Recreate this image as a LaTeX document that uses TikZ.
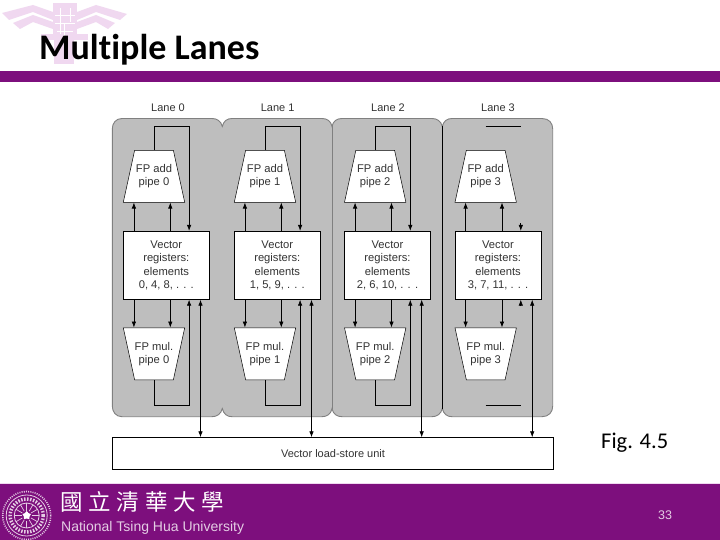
\documentclass[tikz,border=0pt]{standalone}
\usepackage{fontspec}
\setmainfont{Liberation Sans}
\newfontfamily\titlefont[Ligatures=NoCommon]{Carlito}
\newfontfamily\cjkfont[LetterSpace=26]{Noto Sans CJK TC}
\usetikzlibrary{arrows.meta,positioning,calc,shapes.geometric}
\definecolor{bandpurple}{RGB}{125,15,125}
\definecolor{lanegray}{RGB}{190,190,190}
\definecolor{lineedge}{RGB}{128,128,128}
\definecolor{crestpink}{RGB}{240,216,240}
\definecolor{paletext}{RGB}{228,205,228}
\tikzset{
  regbox/.style={draw=black,fill=white,line width=0.8pt,minimum width=86pt,minimum height=68pt,inner sep=0pt,align=center,text=black!80,font=\fontsize{11.2}{13.3}\selectfont},
  pipebox/.style={trapezium,trapezium angle=64,trapezium stretches body=true,draw=black,fill=white,line width=0.5pt,minimum width=61.4pt,minimum height=52pt,inner sep=0pt,align=center,text=black!80,font=\fontsize{11.2}{12.8}\selectfont},
  lanelabel/.style={inner sep=0pt,text=black!80,font=\fontsize{11}{13}\selectfont},
  link/.style={draw=black,line width=0.7pt},
  flow/.style={link,-{Latex[length=6pt,width=4.5pt]}},
  both/.style={link,{Latex[length=6pt,width=4.5pt]}-{Latex[length=6pt,width=4.5pt]}},
  wing/.style={fill=crestpink},
}
\begin{document}
\begin{tikzpicture}[x=1pt,y=-1pt]
\useasboundingbox (0,0) rectangle (720,540);
\fill[white] (0,0) rectangle (720,540);
% crest behind the title
\fill[wing] (2,13) -- (33,5) -- (53,12) -- (53,20) -- (33,12) -- (9,20) -- cycle;
\fill[wing] (13,23) -- (33,15) -- (53,22) -- (53,29) -- (33,22) -- (20,29) -- cycle;
\fill[wing] (127,14) -- (96,5) -- (77,12) -- (77,20) -- (96,12) -- (120,20) -- cycle;
\fill[wing] (115,23) -- (96,15) -- (77,22) -- (77,29) -- (96,22) -- (108,29) -- cycle;
\fill[wing] (53,3) rectangle (77,40);
\fill[wing] (41,34) rectangle (88,40);
\fill[wing] (54,40) rectangle (74,64);
\draw[white,line width=0.8pt] (60,8) -- (60,34) (70,8) -- (70,22) (55,15) -- (75,15) (55,23) -- (75,23) (64,23) -- (64,36) (57,31) -- (73,31);
\node[anchor=base west,inner sep=0pt,font=\titlefont\bfseries\fontsize{36}{36}\selectfont] (title) at (39,60) {Multiple Lanes};
\fill[bandpurple] (0,71) rectangle (720,82.5);
% lanes
\filldraw[fill=lanegray,draw=lineedge,line width=0.9pt] (122,118.5) -- (212,118.5) .. controls (217,118.5) and (221,121) .. (222.3,126.5)
  .. controls (223.6,121) and (227,118.5) .. (232,118.5) -- (322,118.5) .. controls (327,118.5) and (331,121) .. (332,126.5)
  .. controls (333,121) and (337,118.5) .. (342,118.5) -- (432,118.5) .. controls (437,118.5) and (441,121) .. (442.3,126.5)
  .. controls (443.6,121) and (447,118.5) .. (452,118.5) -- (542,118.5) .. controls (549,118.5) and (552.7,123) .. (552.7,129)
  -- (552.7,406) .. controls (552.7,412) and (549,416.7) .. (542,416.7) -- (452,416.7) .. controls (447,416.7) and (443.6,414) .. (442.3,408.5)
  .. controls (441,414) and (437,416.7) .. (432,416.7) -- (342,416.7) .. controls (337,416.7) and (333,414) .. (332,408.5)
  .. controls (331,414) and (327,416.7) .. (322,416.7) -- (232,416.7) .. controls (227,416.7) and (223.6,414) .. (222.3,408.5)
  .. controls (221,414) and (217,416.7) .. (212,416.7) -- (122,416.7) .. controls (116,416.7) and (112.3,412) .. (112.3,406)
  -- (112.3,129) .. controls (112.3,123) and (116,118.5) .. (122,118.5) -- cycle;
\draw[lineedge,line width=0.9pt] (332,126.5) -- (332,408.5);
\draw[black,line width=0.7pt] (442.3,126.5) -- (442.3,408.5);
\node[draw=black,fill=white,line width=0.8pt,minimum width=441pt,minimum height=31.6pt,inner sep=0pt,text=black!80,font=\fontsize{11}{13}\selectfont] (unit) at (333,453.5) {Vector load-store unit};
\foreach \n/\x/\lx/\els in {0/166.3/168/{0, 4, 8, . . .},1/277.3/277.7/{1, 5, 9, . . .},2/387.5/388/{2, 6, 10, . . .},3/498/498/{3, 7, 11, . . .}}{
  \node[lanelabel] (lane\n) at (\lx,107.7) {Lane \n};
  \node[regbox] (reg\n) at (\x,265.3) {Vector\\registers:\\elements\\\els};
  \node[pipebox] (add\n) at ({\x-12.3},176.3) {FP add\\pipe \n};
  \node[pipebox,shape border rotate=180] (mul\n) at ({\x-12.3},353.8) {FP mul.\\pipe \n};
  \coordinate (inA\n) at ($(reg\n.north west)+(11,0)$);
  \coordinate (inB\n) at ($(reg\n.north west)+(47.4,0)$);
  \coordinate (outA\n) at ($(reg\n.south west)+(11,0)$);
  \coordinate (outB\n) at ($(reg\n.south west)+(47.4,0)$);
  \coordinate (addloop\n) at ($(reg\n.north west)+(66.2,-104.6)$);
  \coordinate (mulloop\n) at ($(reg\n.south west)+(66.2,106)$);
  \coordinate (mem\n) at ($(reg\n.south west)+(77.6,0)$);
  \draw[flow] (inA\n) -- (inA\n |- add\n.south);
  \draw[flow] (inB\n) -- (inB\n |- add\n.south);
  \draw[flow] (outA\n) -- (outA\n |- mul\n.north);
  \draw[flow] (outB\n) -- (outB\n |- mul\n.north);
  \draw[both] (mem\n) -- (mem\n |- unit.north);
}
% the loops round the pipes
\foreach \n in {0,1,2}{
  \draw[flow] (add\n.north) |- (addloop\n) -- (addloop\n |- reg\n.north);
  \draw[flow] (mul\n.south) |- (mulloop\n) -- (mulloop\n |- reg\n.south);
}
% lane 3 only keeps pieces of its loops
\coordinate (stubup) at ($(addloop3)+(0,97)$);
\coordinate (stubdown) at ($(mulloop3)+(0,-99.5)$);
\draw[link] (addloop3 -| add3.north) -- (addloop3);
\draw[link] (mulloop3 -| mul3.south) -- (mulloop3);
\draw[flow] (stubup) -- (stubup |- reg3.north);
\draw[flow] (stubdown) -- (stubdown |- reg3.south);
\node[anchor=base west,inner sep=0pt,font=\titlefont\fontsize{22.5}{22}\selectfont] (fig) at (601,448) {Fig. 4.5};
% footer band and seal
\fill[crestpink] (0,483) rectangle (720,484);
\fill[bandpurple] (0,484) rectangle (720,540);
\draw[paletext,line width=1.6pt,dash pattern=on 1pt off 1.2pt] (26.7,515.5) circle (24);
\draw[paletext,line width=0.8pt] (26.7,515.5) circle (20.5) (26.7,515.5) circle (12.5);
\draw[paletext,line width=3.5pt,dash pattern=on 1.5pt off 1.5pt] (26.7,515.5) circle (16.5);
\foreach \a in {0,30,...,330}{
  \draw[paletext,line width=0.7pt] ($(26.7,515.5)+(\a:5)$) -- ($(26.7,515.5)+(\a:12.5)$);
}
\node[star,star points=5,fill=white,inner sep=0pt,minimum size=9pt] (sealstar) at (26.7,515.5) {};
\node[anchor=west,inner sep=0pt,text=white,font=\cjkfont\fontsize{22.5}{24}\selectfont] (namezh) at (60,501.5) {國立清華大學};
\node[anchor=west,inner sep=0pt,text=paletext,font=\fontsize{14}{16}\selectfont] (nameen) at (61,527.5) {National Tsing Hua University};
\node[inner sep=0pt,text=paletext,font=\fontsize{12.5}{14}\selectfont] (pagenum) at (665,515) {33};
\end{tikzpicture}
\end{document}
